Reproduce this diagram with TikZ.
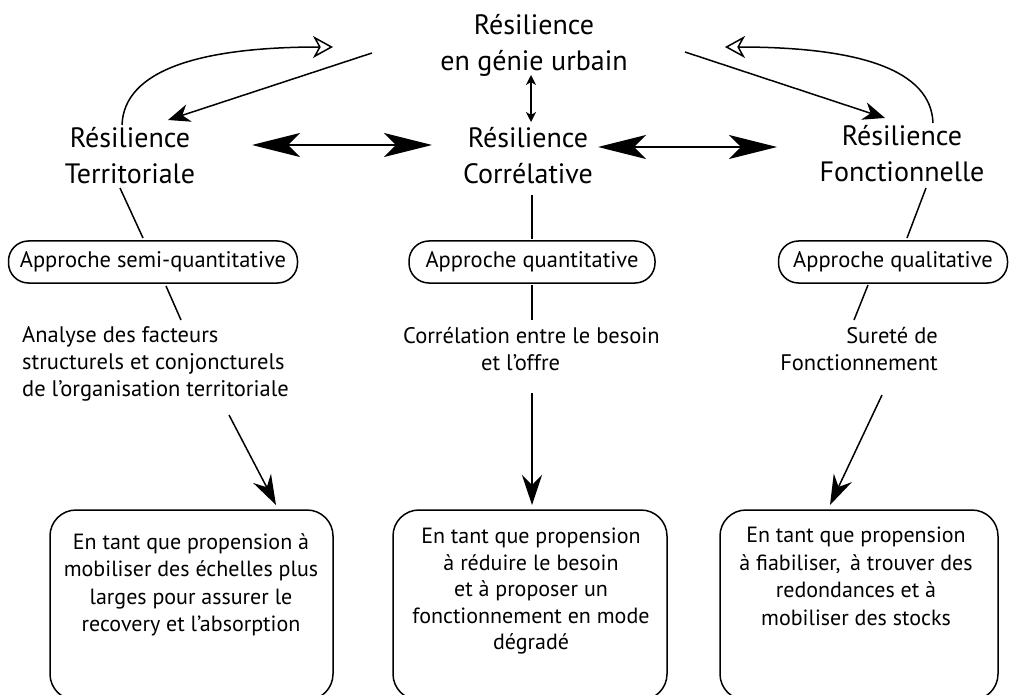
\documentclass[tikz,border=0pt]{standalone}
\usepackage{fontspec}
\setmainfont{PT Sans}
\usetikzlibrary{arrows.meta,calc}
\begin{document}
\begin{tikzpicture}[x=1pt,y=-1pt,
  big/.style={font=\fontsize{28}{36}\selectfont, align=center, inner sep=0pt},
  small/.style={font=\fontsize{22.5}{27}\selectfont, inner sep=0pt},
  pill/.style={draw, line width=1.5pt, rounded corners=20pt, font=\fontsize{22.5}{26}\selectfont, inner sep=0pt, minimum height=42pt},
  bigbox/.style={draw, line width=1.5pt, rounded corners=26pt, inner sep=0pt},
  boxtext/.style={inner sep=0pt, align=center, anchor=north},
  ln/.style={line width=1.5pt},
  bigarr/.style={line width=1.5pt, {Stealth[length=48pt,width=24pt,inset=12pt]}-{Stealth[length=48pt,width=24pt,inset=12pt]}},
  smallarr/.style={line width=1.5pt, {Stealth[length=10pt,width=10pt,inset=3pt]}-{Stealth[length=10pt,width=10pt,inset=3pt]}},
  midarr/.style={line width=1.5pt, -{Stealth[length=22pt,width=18pt,inset=7pt]}},
  openarr/.style={line width=1.5pt, -{Stealth[open,fill=white,length=20pt,width=22pt,inset=6pt]}},
  downarr/.style={line width=1.5pt, -{Stealth[length=30pt,width=20pt,inset=10pt]}}
]
\useasboundingbox (0,0) rectangle (1012,695);

% main nodes
\node[big] (title) at (534,45) {Résilience\\en génie urbain};
\node[big] (terr) at (130,156) {Résilience\\Territoriale};
\node[big] (corr) at (528,156) {Résilience\\Corrélative};
\node[big] (fonc) at (902,154) {Résilience\\Fonctionnelle};

% approach pills
\node[pill, minimum width=289pt] (semi) at (153,262) {Approche semi-quantitative};
\node[pill, minimum width=246pt] (quant) at (532,262) {Approche quantitative};
\node[pill, minimum width=229pt] (qual) at (893,262) {Approche qualitative};

% descriptions
\node[small, align=left, anchor=west] (ana) at (22,364) {Analyse des facteurs\\structurels et conjoncturels\\de l’organisation territoriale};
\node[small, align=left, anchor=west] (cor) at (403,349) {Corrélation entre le besoin\\\hspace*{78pt}et l’offre};
\node[small, align=right, anchor=east] (sur) at (938,349) {Sureté de\\Fonctionnement};

% bottom boxes
\node[bigbox, minimum width=283pt, minimum height=190pt] (b1) at (191.5,605) {};
\node[bigbox, minimum width=274pt, minimum height=190pt] (b2) at (530,605) {};
\node[bigbox, minimum width=278pt, minimum height=190pt] (b3) at (859,605) {};
\node[boxtext, font=\fontsize{22}{27.5}\selectfont] (t1) at (191,533) {En tant que propension à\\mobiliser des échelles plus\\larges pour assurer le\\recovery et l’absorption};
\node[boxtext, font=\fontsize{22}{26.5}\selectfont] (t2) at (531,528) {En tant que propension\\à réduire le besoin\\et à proposer un\\fonctionnement en mode\\dégradé};
\node[boxtext, font=\fontsize{22}{27.5}\selectfont] (t3) at (856,527) {En tant que propension\\à fiabiliser,\, à trouver des\\redondances et à\\mobiliser des stocks};

% connector end points
\coordinate (tl1) at (372,53);  \coordinate (tl2) at (168,120);
\coordinate (tr1) at (685,52);  \coordinate (tr2) at (885,118);
\coordinate (cl1) at (122,125); \coordinate (cl2) at (333,47);
\coordinate (cr1) at (933,123); \coordinate (cr2) at (725,47);
\coordinate (hl1) at (252,145); \coordinate (hl2) at (432,145);
\coordinate (hr1) at (598,147); \coordinate (hr2) at (777,147);
\coordinate (v1) at (531,75);   \coordinate (v2) at (531,122);
\coordinate (a1) at (120,188);  \coordinate (a2) at (143,238);
\coordinate (a3) at (166,286);  \coordinate (a4) at (181,320);
\coordinate (m1) at (532,195);  \coordinate (m2) at (532,239);
\coordinate (m3) at (532,285);  \coordinate (m4) at (532,320);
\coordinate (f1) at (926,188);  \coordinate (f2) at (907,238);
\coordinate (f3) at (868,285);  \coordinate (f4) at (854,320);
\coordinate (d1) at (229,415);  \coordinate (d2) at (276,505);
\coordinate (e1) at (532,393);  \coordinate (e2) at (532,505);
\coordinate (g1) at (882,395);  \coordinate (g2) at (830,505);

% connectors
\draw[midarr] (tl1) -- (tl2);
\draw[midarr] (tr1) -- (tr2);
\draw[openarr] (cl1) .. controls (124,70) and (200,47) .. (cl2);
\draw[openarr] (cr1) .. controls (931,70) and (860,47) .. (cr2);
\draw[bigarr] (hl1) -- (hl2);
\draw[bigarr] (hr1) -- (hr2);
\draw[smallarr] (v1) -- (v2);
\draw[ln] (a1) -- (a2);
\draw[ln] (a3) -- (a4);
\draw[ln] (m1) -- (m2);
\draw[ln] (m3) -- (m4);
\draw[ln] (f1) -- (f2);
\draw[ln] (f3) -- (f4);
\draw[downarr] (d1) -- (d2);
\draw[downarr] (e1) -- (e2);
\draw[downarr] (g1) -- (g2);
\end{tikzpicture}
\end{document}
